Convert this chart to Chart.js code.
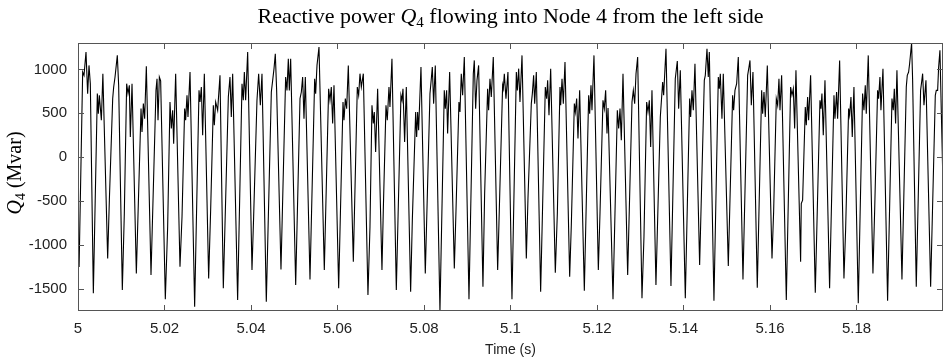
<!DOCTYPE html>
<html>
<head>
<meta charset="utf-8">
<script src="https://cdn.jsdelivr.net/npm/chart.js@4"></script>
<style>
  body { margin: 0; background: #fff; }
</style>
</head>
<body>
<canvas id="grafico" width="945" height="360"></canvas>
<script>
// time offset from t = 5 s, in milliseconds (one cycle per line)
const timeMs = [
  0, 0.25, 1.08, 1.39, 1.85, 2.23, 2.54, 2.85, 3.55,
  4.47, 4.70, 4.93, 5.40, 5.75, 6.86,
  7.25, 8.02, 8.25, 8.56, 9.09, 9.40, 10.25,
  10.71, 11.25, 11.56, 11.87, 12.10, 12.49, 13.49,
  13.95, 14.57, 14.80, 15.11, 15.41, 15.80, 16.88,
  18.03, 18.27, 18.50, 18.81, 19.11, 20.19,
  20.73, 21.27, 21.58, 21.89, 22.12, 22.58, 23.58,
  24.05, 24.66, 24.89, 25.20, 25.43, 25.90, 26.97,
  27.98, 28.21, 28.52, 28.82, 29.21, 30.21,
  30.67, 31.29, 31.52, 31.83, 32.29, 32.83, 33.60,
  34.76, 35.14, 35.45, 35.76, 36.91,
  37.92, 38.22, 38.46, 38.76, 39.23, 40.23,
  40.61, 41.38, 41.77, 42.16, 42.54, 43.54,
  44.70, 45.01, 45.32, 45.62, 45.93, 46.93,
  48.01, 48.32, 48.63, 48.86, 49.17, 50.33,
  51.33, 51.64, 51.94, 52.25, 52.56, 53.64,
  54.72, 54.95, 55.26, 55.72, 56.95,
  57.95, 58.26, 58.57, 58.88, 59.19, 60.27,
  61.27, 61.50, 61.81, 62.12, 62.50, 63.66,
  64.58, 64.89, 65.20, 65.51, 65.97, 67.04,
  67.51, 67.97, 68.28, 68.51, 68.82, 69.28, 70.28,
  70.59, 71.21, 71.51, 71.90, 72.13, 72.59, 73.60,
  74.67, 74.91, 75.14, 75.52, 75.91, 76.91,
  77.30, 78.07, 78.30, 78.53, 78.76, 79.30, 80.30,
  81.38, 81.69, 81.92, 82.23, 82.61, 83.69,
  84.69, 84.93, 85.23, 85.46, 85.93, 87.01,
  87.39, 88.08, 88.32, 88.62, 88.93, 89.32, 90.40,
  91.40, 91.63, 91.94, 92.25, 92.63, 93.63,
  94.02, 94.71, 94.94, 95.25, 95.56, 96.02, 97.03,
  97.33, 98.18, 98.34, 98.57, 98.95, 99.41, 100.34,
  101.35, 101.58, 101.89, 102.19, 102.66, 103.66,
  104.04, 104.81, 105.05, 105.35, 105.59, 105.97, 106.97,
  108.05, 108.36, 108.59, 108.90, 109.29, 110.36,
  110.83, 111.44, 111.60, 111.91, 112.21, 112.60, 113.68,
  114.06, 114.76, 114.99, 115.30, 115.60, 115.99, 117.07,
  118.07, 118.30, 118.61, 118.84, 119.30, 120.31,
  120.69, 121.38, 121.69, 122.00, 122.31, 122.55, 123.70,
  124.70, 125.01, 125.32, 125.62, 126.01, 127.09,
  128.09, 128.40, 128.71, 129.02, 129.40, 130.40,
  130.86, 131.48, 131.79, 132.10, 132.41, 132.71, 133.63,
  134.64, 135.18, 135.41, 135.95, 137.10,
  138.10, 138.57, 138.88, 139.26, 140.42,
  141.42, 141.65, 141.96, 142.27, 142.65, 143.73,
  144.81, 145.04, 145.43, 145.73, 145.97, 147.04,
  148.05, 148.28, 148.51, 148.89, 149.20, 150.36,
  151.36, 151.59, 151.90, 152.29, 152.67, 153.75,
  154.83, 155.14, 155.37, 155.68, 156.06, 157.06,
  158.07, 158.30, 158.61, 158.91, 159.38, 160.46,
  160.84, 161.46, 161.77, 162.07, 162.31, 162.69, 163.77,
  164.77, 165.08, 165.39, 165.70, 166.00, 167.08,
  167.23, 167.54, 168.16, 168.39, 168.70, 168.93, 169.39, 170.47,
  171.55, 171.78, 172.01, 172.32, 172.71, 173.78,
  174.79, 175.02, 175.40, 175.63, 176.10, 177.10,
  177.48, 178.18, 178.41, 178.72, 179.02, 179.41, 180.41,
  181.41, 181.72, 182.03, 182.26, 182.72, 183.80,
  184.19, 184.88, 185.11, 185.42, 185.65, 186.12, 187.19,
  188.20, 188.50, 188.74, 189.04, 189.35, 190.51,
  191.51, 191.74, 192.05, 192.28, 192.74, 192.97, 193.82,
  194.82, 195.06, 195.29, 195.60, 196.06, 197.14,
  198.22, 198.45, 198.76, 198.99, 199.29, 199.99
];

// Q4 in Mvar, same layout as timeMs
const q4Mvar = [
  -850, -1250, 970, 932, 1197, 724, 1045, 837, -1549,
  724, 496, 705, 420, 951, -1152,
  -489, 667, 799, 913, 1159, 818, -1511,
  -640, 837, 724, 818, 231, 837, -1322,
  -527, 553, 288, 610, 439, 1034, -1341,
  761, 894, 420, 913, 870, -1617,
  -792, 629, 326, 534, 155, 951, -1246,
  -678, 553, 420, 705, 458, 970, -1701,
  761, 629, 799, 250, 951, -1379,
  -602, 591, 364, 629, 534, 932, -1492,
  686, 913, 458, 951, -1625,
  837, 648, 970, 648, 1197, -1284,
  -678, 648, 951, 591, 951, -1644,
  742, 875, 1008, 1178, 761, -1277,
  913, 761, 1121, 761, 1121, -1455,
  667, 742, 913, 439, 913, -1390,
  894, 724, 1045, 1254, -1284,
  780, 648, 799, 383, 818, -1492,
  629, 420, 667, 553, 1045, -1189,
  799, 705, 951, 799, 951, -1568,
  -792, 591, 383, 515, 61, 780, -1284,
  -602, 591, 420, 799, 572, 1121, -1511,
  705, 648, 780, 174, 799, -1530,
  -716, 515, 231, 515, 307, 1027, -1322,
  724, 894, 1027, 610, 1045, -1746,
  761, 553, 761, 269, 970, -1265,
  -621, 629, 515, 951, 705, 1140, -1617,
  951, 1102, 553, 875, 1045, -1474,
  -413, 780, 534, 894, 686, 1140, -1284,
  -754, 818, 780, 951, 667, 970, -1617,
  970, 761, 1008, 629, 1159, -1152,
  -470, 610, 724, 932, 610, 970, -1530,
  799, 667, 875, 477, 1008, -1314,
  -640, 799, 591, 894, 610, 1083, -1360,
  -773, 610, 515, 667, 212, 761, -1519,
  705, 496, 818, 534, 1159, -1284,
  -640, 648, 553, 761, 269, 560, -1617,
  534, 326, 553, 193, 951, -1341,
  629, 761, 610, 951, 1140, -1606,
  -905, 629, 515, 648, 117, 761, -1455,
  458, 856, 705, 1235, -1466,
  894, 1095, 553, 989, -1606,
  667, 458, 761, 534, 1064, -1227,
  875, 932, 1235, 913, 1197, -1633,
  913, 780, 951, 439, 951, -1239,
  705, 534, 761, 837, 1140, -1390,
  932, 1027, 1102, 591, 970, -1485,
  761, 496, 742, 458, 1045, -1152,
  -621, 667, 591, 894, 534, 932, -1625,
  799, 705, 780, 326, 989, -1189,
  -527, -489, 572, 364, 686, 420, 932, -1542,
  648, 553, 724, 250, 875, -1492,
  705, 439, 742, 439, 1102, -1379,
  -830, 553, 477, 686, 231, 799, -1663,
  724, 534, 818, 496, 1159, -1322,
  -621, 761, 667, 913, 534, 1008, -1633,
  667, 534, 780, 383, 989, -1390,
  799, 932, 970, 1064, 1299, 894, -1474,
  761, 856, 951, 591, 875, -1474,
  705, 761, 761, 1027, 1216, -300
];

const xTicks = [5, 5.02, 5.04, 5.06, 5.08, 5.1, 5.12, 5.14, 5.16, 5.18];
const yTicks = [-1500, -1000, -500, 0, 500, 1000];

if (timeMs.length !== q4Mvar.length) console.error("longitudes distintas", timeMs.length, q4Mvar.length);

const puntos = timeMs.map((ms, i) => ({ x: 5 + ms / 1000, y: q4Mvar[i] }));

const SERIF = "'Liberation Serif', 'Times New Roman', serif";
const SANS = "'Liberation Sans', Arial, sans-serif";

// draws "text Q4 text" with italic Q and subscript 4
function textoRico(ctx, partes, cx, cy) {
  let total = 0;
  partes.forEach(p => { ctx.font = p.f; p.w = ctx.measureText(p.t).width; total += p.w; });
  let x = cx - total / 2;
  ctx.textBaseline = "alphabetic";
  ctx.textAlign = "left";
  partes.forEach(p => {
    ctx.font = p.f;
    ctx.fillText(p.t, x, cy + (p.dy || 0));
    x += p.w;
  });
}

const rotulos = {
  id: "rotulos",
  afterDraw(chart) {
    const { ctx, chartArea: a } = chart;
    ctx.save();
    ctx.fillStyle = "#000";
    const cx = (a.left + a.right) / 2;
    textoRico(ctx, [
      { t: "Reactive power ", f: "22px " + SERIF },
      { t: "Q", f: "italic 22px " + SERIF },
      { t: "4", f: "15px " + SERIF, dy: 4 },
      { t: " flowing into Node 4 from the left side", f: "22px " + SERIF }
    ], cx, 23);

    ctx.translate(21, (a.top + a.bottom) / 2 - 4);
    ctx.rotate(-Math.PI / 2);
    textoRico(ctx, [
      { t: "Q", f: "italic 20px " + SERIF },
      { t: "4", f: "14px " + SERIF, dy: 4 },
      { t: " (Mvar)", f: "20px " + SERIF }
    ], 0, 0);
    ctx.restore();
  }
};

// box around the plot with inward ticks on all four sides
const caja = {
  id: "caja",
  afterDatasetsDraw(chart) {
    const { ctx, chartArea: a, scales: { x, y } } = chart;
    ctx.save();
    ctx.strokeStyle = "#555";
    ctx.lineWidth = 1;
    ctx.beginPath();
    xTicks.forEach(v => {
      const px = Math.round(x.getPixelForValue(v)) + 0.5;
      ctx.moveTo(px, a.bottom); ctx.lineTo(px, a.bottom - 6);
      ctx.moveTo(px, a.top); ctx.lineTo(px, a.top + 6);
    });
    yTicks.forEach(v => {
      const py = Math.round(y.getPixelForValue(v)) + 0.5;
      ctx.moveTo(a.left, py); ctx.lineTo(a.left + 6, py);
      ctx.moveTo(a.right, py); ctx.lineTo(a.right - 6, py);
    });
    ctx.stroke();
    ctx.strokeRect(Math.round(a.left) + 0.5, Math.round(a.top) + 0.5,
      Math.round(a.width) - 1, Math.round(a.height) - 1);
    ctx.restore();
  }
};

new Chart(document.getElementById("grafico"), {
  type: "line",
  data: {
    datasets: [{
      data: puntos,
      borderColor: "#000",
      borderWidth: 1.1,
      pointRadius: 0,
      tension: 0,
      fill: false
    }]
  },
  options: {
    responsive: false,
    animation: false,
    devicePixelRatio: 1,
    layout: { padding: { top: 43, right: 2, left: 0, bottom: 0 } },
    plugins: {
      legend: { display: false },
      tooltip: { enabled: false },
      title: { display: false }
    },
    scales: {
      x: {
        type: "linear",
        min: 5,
        max: 5.2,
        afterBuildTicks: s => { s.ticks = xTicks.map(v => ({ value: v })); },
        afterFit: s => { s.height = 49; },
        grid: { display: false, drawTicks: false },
        border: { display: false },
        ticks: {
          padding: 9,
          color: "#222",
          font: { family: SANS, size: 15 },
          maxRotation: 0,
          callback: v => String(+Number(v).toFixed(2))
        },
        title: {
          display: true,
          text: "Time (s)",
          color: "#222",
          font: { family: SANS, size: 14 },
          padding: { top: 0, bottom: 1 }
        }
      },
      y: {
        min: -1750,
        max: 1300,
        afterBuildTicks: s => { s.ticks = yTicks.map(v => ({ value: v })); },
        afterFit: s => { s.width = 78; },
        grid: { display: false, drawTicks: false },
        border: { display: false },
        ticks: {
          padding: 11,
          color: "#222",
          font: { family: SANS, size: 15 },
          callback: v => String(v)
        }
      }
    }
  },
  plugins: [caja, rotulos]
});
</script>
</body>
</html>
